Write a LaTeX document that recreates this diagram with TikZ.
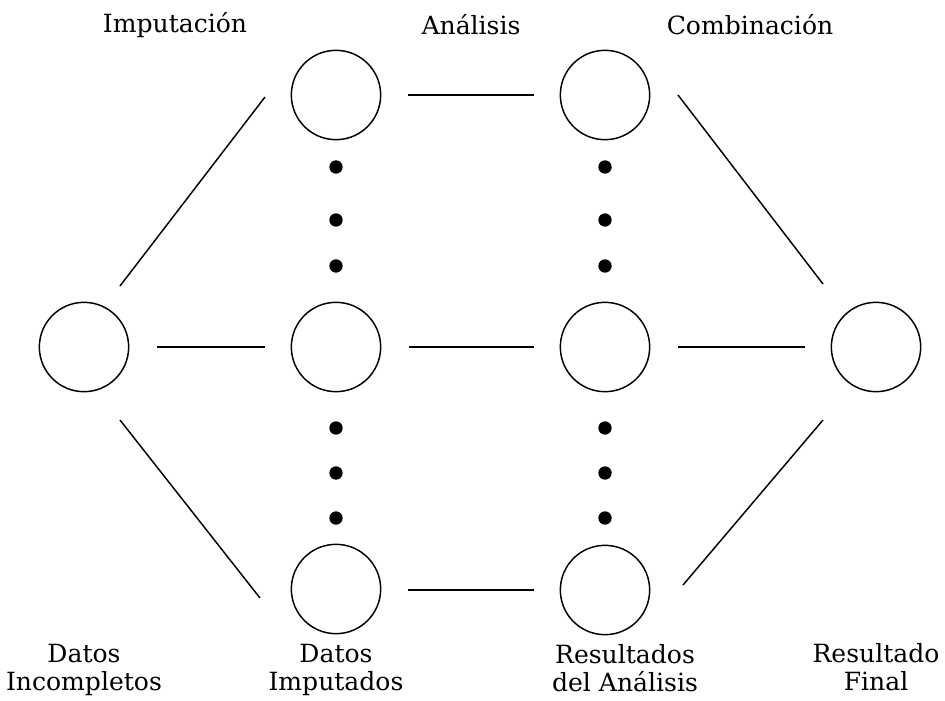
\documentclass[tikz,border=0pt]{standalone}
\usepackage{fontspec}
\setmainfont{DejaVu Serif}
\usetikzlibrary{calc}
\begin{document}
\begin{tikzpicture}[x=0.75pt,y=-0.75pt,
  stage/.style={circle,draw,line width=1.1pt,inner sep=0pt,minimum size=67pt},
  dotnode/.style={circle,fill=black,inner sep=0pt,minimum size=10pt},
  lbl/.style={font=\fontsize{18.8}{20.5}\selectfont,align=center,inner sep=0pt},
  conn/.style={line width=1.1pt}]
\useasboundingbox (0,0) rectangle (945,700);
% circles
\node[stage] (L) at (84,347) {};
\node[stage] (T2) at (336,95) {};
\node[stage] (M2) at (336,347) {};
\node[stage] (B2) at (336,589) {};
\node[stage] (T3) at (605,95) {};
\node[stage] (M3) at (605,347) {};
\node[stage] (B3) at (605,590) {};
\node[stage] (R) at (876,347) {};
% dots
\foreach \x/\c in {336/a,605/b}{
  \foreach \y/\k in {167/1,220/2,266/3,428/4,473/5,518/6}{
    \node[dotnode] (dot\c\k) at (\x,\y) {};
  }
}
% connectors
\draw[conn] ($(L)+(36,-61)$) -- ($(T2)+(-71,2)$);
\draw[conn] ($(L)+(73,0)$) -- ($(M2)+(-71,0)$);
\draw[conn] ($(L)+(36,73)$) -- ($(B2)+(-76,9)$);
\draw[conn] ($(T2)+(72,0)$) -- ($(T3)+(-71,0)$);
\draw[conn] ($(M2)+(73,0)$) -- ($(M3)+(-71,0)$);
\draw[conn] ($(B2)+(72,1)$) -- ($(B3)+(-71,0)$);
\draw[conn] ($(T3)+(73,0)$) -- ($(R)+(-53,-63)$);
\draw[conn] ($(M3)+(73,0)$) -- ($(R)+(-71,0)$);
\draw[conn] ($(B3)+(78,-5)$) -- ($(R)+(-53,73)$);
% labels
\node[lbl] (t1) at (175,25) {Imputación};
\node[lbl] (t2) at (471,25) {Análisis};
\node[lbl] (t3) at (750,25) {Combinación};
\node[lbl,anchor=base] (b1) at (84,690) {Datos\\Incompletos};
\node[lbl,anchor=base] (b2) at (336,690) {Datos\\Imputados};
\node[lbl,anchor=base] (b3) at (625,691) {Resultados\\del Análisis};
\node[lbl,anchor=base] (b4) at (876,690) {Resultado\\Final};
\end{tikzpicture}
\end{document}
